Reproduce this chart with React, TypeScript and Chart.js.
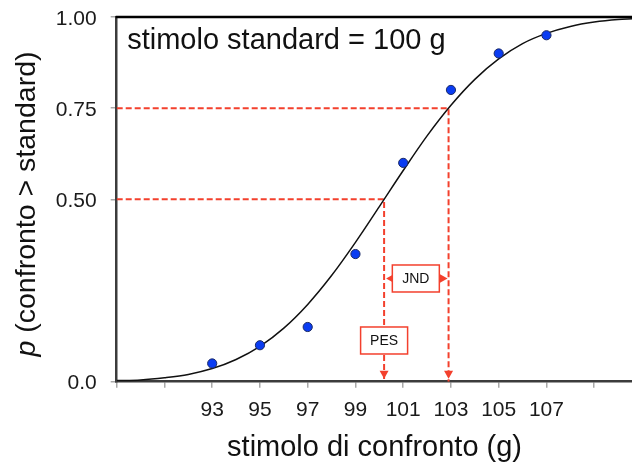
import React, { useEffect, useRef } from 'react';
import { Chart, registerables } from 'chart.js';

Chart.register(...registerables);

// ---- data ----
const stimulusValues = [93, 95, 97, 99, 101, 103, 105, 107];
const proportionValues = [0.05, 0.1, 0.15, 0.35, 0.6, 0.8, 0.9, 0.95];

const curveX = [89, 90, 91, 92, 93, 94, 95, 96, 97, 98, 99, 100, 101, 102, 103, 104, 105, 106, 107, 108, 109, 110, 110.6];
const curveY = [0.003, 0.005, 0.011, 0.02, 0.036, 0.061, 0.097, 0.147, 0.212, 0.291, 0.382, 0.48, 0.579, 0.674, 0.758, 0.829, 0.885, 0.927, 0.955, 0.974, 0.986, 0.993, 0.995];

const xTickValues = [89, 91, 93, 95, 97, 99, 101, 103, 105, 107, 109];
const xTickLabels = ['', '', '93', '95', '97', '99', '101', '103', '105', '107', ''];
const yTickValues = [0, 0.5, 0.75, 1];
const yTickLabels = ['0.0', '0.50', '0.75', '1.00'];

const PES = 100.2;
const X75 = 102.9;
const LEVEL_50 = 0.5;
const LEVEL_75 = 0.75;
const JND_LEVEL = 0.283;
const PES_BOX_LEVEL = 0.113;

const X_MIN = 89;
const X_MAX = 110.6;

const xTitle = 'stimolo di confronto (g)';
const yTitleItalic = 'p';
const yTitleRest = ' (confronto > standard)';
const standardText = 'stimolo standard = 100 g';

const FONT = '"Liberation Sans", Arial, Helvetica, sans-serif';
const RED = '#f3402d';
const BLUE = '#0a3cf2';

function drawTriangle(ctx: CanvasRenderingContext2D, tx: number, ty: number, dir: 'down' | 'left' | 'right', len: number, half: number) {
  ctx.beginPath();
  if (dir === 'down') {
    ctx.moveTo(tx, ty);
    ctx.lineTo(tx - half, ty - len);
    ctx.lineTo(tx + half, ty - len);
  } else if (dir === 'left') {
    ctx.moveTo(tx, ty);
    ctx.lineTo(tx + len, ty - half);
    ctx.lineTo(tx + len, ty + half);
  } else {
    ctx.moveTo(tx, ty);
    ctx.lineTo(tx - len, ty - half);
    ctx.lineTo(tx - len, ty + half);
  }
  ctx.closePath();
  ctx.fill();
}

function drawBox(ctx: CanvasRenderingContext2D, cx: number, cy: number, w: number, h: number, text: string) {
  ctx.fillStyle = '#ffffff';
  ctx.fillRect(cx - w / 2, cy - h / 2, w, h);
  ctx.strokeStyle = RED;
  ctx.lineWidth = 1.5;
  ctx.setLineDash([]);
  ctx.strokeRect(cx - w / 2, cy - h / 2, w, h);
  ctx.fillStyle = '#111111';
  ctx.font = `14px ${FONT}`;
  ctx.textAlign = 'center';
  ctx.textBaseline = 'middle';
  ctx.fillText(text, cx, cy + 1);
}

const overlayPlugin = {
  id: 'overlay',
  afterDatasetsDraw(chart: any) {
    const { ctx, chartArea, scales } = chart;
    const xs = scales.x;
    const ys = scales.y;
    const xPes = xs.getPixelForValue(PES);
    const x75 = xs.getPixelForValue(X75);
    const yBottom = chartArea.bottom;
    ctx.save();
    ctx.fillStyle = RED;
    // arrows pointing down onto the axis
    drawTriangle(ctx, xPes, yBottom - 3, 'down', 8, 4.5);
    drawTriangle(ctx, x75, yBottom - 3, 'down', 8, 4.5);
    // JND box with outward arrows
    const yJnd = ys.getPixelForValue(JND_LEVEL);
    const cxJnd = (xPes + x75) / 2 - 0.5;
    ctx.fillStyle = RED;
    drawTriangle(ctx, xPes + 2, yJnd, 'left', 8, 4.5);
    drawTriangle(ctx, x75 - 1, yJnd, 'right', 8, 4.5);
    drawBox(ctx, cxJnd, yJnd, 47, 27, 'JND');
    // PES box
    const yPesBox = ys.getPixelForValue(PES_BOX_LEVEL);
    drawBox(ctx, xPes, yPesBox, 47, 27, 'PES');
    ctx.restore();
  },
  afterDraw(chart: any) {
    const { ctx, chartArea } = chart;
    ctx.save();
    // top frame line
    ctx.strokeStyle = '#000000';
    ctx.lineWidth = 2.5;
    ctx.beginPath();
    ctx.moveTo(chartArea.left - 1, chartArea.top);
    ctx.lineTo(chartArea.right, chartArea.top);
    ctx.stroke();
    // label inside the plot
    ctx.fillStyle = '#111111';
    ctx.font = `29px ${FONT}`;
    ctx.textAlign = 'left';
    ctx.textBaseline = 'alphabetic';
    ctx.fillText(standardText, chartArea.left + 10.5, chartArea.top + 31.5);
    // y axis title with italic p
    ctx.translate(27, 204);
    ctx.rotate(-Math.PI / 2);
    ctx.textBaseline = 'middle';
    ctx.font = `italic 28.5px ${FONT}`;
    const w1 = ctx.measureText(yTitleItalic).width;
    ctx.font = `28.5px ${FONT}`;
    const w2 = ctx.measureText(yTitleRest).width;
    const start = -(w1 + w2) / 2;
    ctx.font = `italic 28.5px ${FONT}`;
    ctx.fillText(yTitleItalic, start, 0);
    ctx.font = `28.5px ${FONT}`;
    ctx.fillText(yTitleRest, start + w1, 0);
    ctx.restore();
  },
};

export default function App() {
  const canvasRef = useRef<HTMLCanvasElement | null>(null);

  useEffect(() => {
    document.body.style.margin = '0';
    document.body.style.overflow = 'hidden';
    const canvas = canvasRef.current;
    if (!canvas) return;

    const curveData = curveX.map((x, i) => ({ x, y: curveY[i] }));
    const pointData = stimulusValues.map((x, i) => ({ x, y: proportionValues[i] }));
    const line75 = [
      { x: X_MIN, y: LEVEL_75 },
      { x: X75, y: LEVEL_75 },
      { x: X75, y: 0 },
    ];
    const line50 = [
      { x: X_MIN, y: LEVEL_50 },
      { x: PES, y: LEVEL_50 },
      { x: PES, y: 0 },
    ];

    const chart = new Chart(canvas, {
      type: 'scatter',
      data: {
        datasets: [
          { label: 'dati', data: pointData, showLine: false, pointRadius: 4.6, pointBackgroundColor: BLUE, pointBorderColor: '#1b2a66', pointBorderWidth: 1, order: 0 },
          { label: 'curva', data: curveData, showLine: true, borderColor: '#111111', borderWidth: 1.5, pointRadius: 0, cubicInterpolationMode: 'monotone', order: 1 },
          { label: '0.75', data: line75, showLine: true, borderColor: RED, borderWidth: 2, borderDash: [6, 3], pointRadius: 0, tension: 0, order: 2 },
          { label: '0.50', data: line50, showLine: true, borderColor: RED, borderWidth: 2, borderDash: [6, 3], pointRadius: 0, tension: 0, order: 3 },
        ],
      },
      options: {
        animation: false,
        responsive: false,
        maintainAspectRatio: false,
        layout: { padding: { top: 17, right: 0, left: 0, bottom: 0 } },
        plugins: { legend: { display: false }, tooltip: { enabled: false } },
        scales: {
          x: {
            type: 'linear',
            min: X_MIN,
            max: X_MAX,
            afterBuildTicks: (scale: any) => { scale.ticks = xTickValues.map((v) => ({ value: v })); },
            afterFit: (scale: any) => { scale.height = 84.3; scale.paddingLeft = 0; scale.paddingRight = 0; },
            ticks: {
              autoSkip: false, maxRotation: 0, padding: 9.5, color: '#1a1a1a',
              font: { family: FONT, size: 21 },
              callback: (value: any) => { const i = xTickValues.indexOf(Number(value)); return i >= 0 ? xTickLabels[i] : ''; },
            },
            grid: { drawOnChartArea: false, drawTicks: true, tickLength: 6, color: '#a8a8a8', lineWidth: 1.5 },
            border: { display: true, color: '#3c3c3c', width: 2.5 },
            title: { display: true, text: xTitle, color: '#111111', font: { family: FONT, size: 29 }, padding: { top: 0, bottom: 1 } },
          },
          y: {
            type: 'linear',
            min: 0,
            max: 1,
            afterBuildTicks: (scale: any) => { scale.ticks = yTickValues.map((v) => ({ value: v })); },
            afterFit: (scale: any) => { scale.width = 116.7; scale.paddingTop = 0; scale.paddingBottom = 0; },
            ticks: {
              autoSkip: false, padding: 14, labelOffset: 2, color: '#1a1a1a',
              font: { family: FONT, size: 21 },
              callback: (value: any) => { const i = yTickValues.indexOf(Number(value)); return i >= 0 ? yTickLabels[i] : ''; },
            },
            grid: { drawOnChartArea: false, drawTicks: true, tickLength: 6, color: '#a8a8a8', lineWidth: 1.5 },
            border: { display: true, color: '#3c3c3c', width: 2.5 },
            title: { display: false },
          },
        },
      },
      plugins: [overlayPlugin],
    } as any);

    return () => { chart.destroy(); };
  }, []);

  return (
    <div style={{ width: 632, height: 466, position: 'relative', overflow: 'hidden' }}>
      <canvas ref={canvasRef} width={638} height={466} style={{ display: 'block' }} />
    </div>
  );
}
